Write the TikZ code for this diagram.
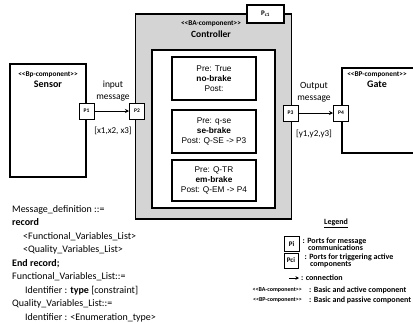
\documentclass[tikz,border=0pt]{standalone}
\usepackage{fontspec}
\setmainfont{Carlito}
\newfontfamily\arialfont{Liberation Sans}
\usetikzlibrary{arrows.meta,positioning}
\definecolor{shade}{RGB}{212,212,212}
\newcommand{\ster}[1]{{<}{<}#1{>}{>}}
\tikzset{
  comp/.style={draw=black,line width=1.2pt,fill=white,inner sep=0pt},
  port/.style={draw=black,line width=1pt,fill=white,minimum width=15pt,minimum height=16pt,inner sep=0pt,font=\fontsize{5.5}{6}\selectfont\bfseries},
  beh/.style={draw=black,line width=1.2pt,fill=white,minimum width=84pt,minimum height=43pt,align=center,inner sep=0pt,font=\arialfont\fontsize{8.3}{10}\selectfont},
  stereo/.style={font=\fontsize{7.3}{8}\selectfont\bfseries,inner sep=0pt},
  title/.style={font=\fontsize{10}{11}\selectfont\bfseries,inner sep=0pt},
  msg/.style={font=\fontsize{9.5}{11.5}\selectfont,align=center,inner sep=0pt},
  arr/.style={-{Stealth[length=4pt,width=4pt]},line width=0.8pt},
  code/.style={anchor=base west,font=\fontsize{10}{12}\selectfont,inner sep=0pt},
  leg/.style={anchor=west,font=\fontsize{8}{7}\selectfont\bfseries,align=left,inner sep=0pt}
}

\begin{document}
\begin{tikzpicture}[x=1pt,y=-1pt]
  \clip (0,0) rectangle (413,322);
  % sensor
  \node[comp,minimum width=76pt,minimum height=113pt] (sensor) at (48,120.5) {};
  \node[stereo] (sst) at (48,75) {\ster{Bp-component}};
  \node[title,below=3pt of sst] {Sensor};
  % controller
  \node[comp,fill=shade,minimum width=156pt,minimum height=205pt] (ctrl) at (213.5,116.5) {};
  \node[comp,minimum width=37pt,minimum height=18pt,font=\fontsize{7}{8}\selectfont\bfseries] (pc1) at (265.5,14) {P\textsubscript{c1}};
  \node[stereo] (cst) at (211,24) {\ster{BA-component}};
  \node[title,font=\fontsize{9.5}{11}\selectfont\bfseries,below=3pt of cst] {Controller};
  \node[comp,minimum width=123pt,minimum height=158pt] (inner) at (213.5,129) {};
  \node[beh] (nb) at (214,78.5) {Pre: True\\\textbf{no-brake}\\Post:};
  \node[beh] (sb) at (214,131.5) {Pre: q-se\\\textbf{se-brake}\\Post: Q-SE -> P3};
  \node[beh,minimum height=41pt] (eb) at (214,180.5) {Pre: Q-TR\\\textbf{em-brake}\\Post: Q-EM -> P4};
  % gate
  \node[comp,minimum width=85pt,minimum height=85pt] (gate) at (384.5,110.5) {};
  \node[stereo] (gst) at (377,75) {\ster{BP-component}};
  \node[title,below=3pt of gst] {Gate};
  % ports and messages
  \node[port] (p1) at (86.5,111) {P1};
  \node[port] (p2) at (137,111) {P2};
  \node[port] (p3) at (290.5,113) {P3};
  \node[port] (p4) at (341,113) {P4};
  \draw[arr] (p1) -- (p2);
  \draw[arr] (p3) -- (p4);
  \node[msg] at (113,91) {input\\message};
  \node[msg,font=\fontsize{9}{11}\selectfont] at (113,131) {[x1,x2, x3]};
  \node[msg] at (314,92) {Output\\message};
  \node[msg,font=\fontsize{9}{11}\selectfont] at (314,134) {[y1,y2,y3]};
  % message definition
  \node[code] at (12,212) {Message\_definition ::=};
  \node[code] at (12,225.5) {\textbf{record}};
  \node[code] at (23,239) {<Functional\_Variables\_List>};
  \node[code] at (23,252.5) {<Quality\_Variables\_List>};
  \node[code] at (12,266) {\textbf{End record;}};
  \node[code] at (12,279.5) {Functional\_Variables\_List::=};
  \node[code] at (25,293) {Identifier : \textbf{type} [constraint]};
  \node[code] at (12,306.5) {Quality\_Variables\_List::=};
  \node[code] at (25,320) {Identifier : <Enumeration\_type>};
  % legend
  \node[leg,anchor=center] at (336,223) {\underline{Legend}};
  \node[port,minimum width=15pt,minimum height=15pt,font=\fontsize{7}{7}\selectfont\bfseries] (lpi) at (291.5,244) {Pi};
  \node[leg,right=3pt of lpi,yshift=-0.5pt] {: Ports for message\\\ \ \ communications};
  \node[port,minimum width=14pt,minimum height=15pt,font=\fontsize{7}{7}\selectfont\bfseries] (lpc) at (291,260.5) {Pci};
  \node[leg,right=6pt of lpc,yshift=-0.5pt] (tpc) {: Ports for triggering active\\\ \ \ components};
  \coordinate (la) at (289,278);
  \coordinate (lb) at (299,278);
  \draw[arr,line width=0.8pt,-{Stealth[length=3.5pt,width=3.5pt]}] (la) -- (lb);
  \node[leg] at (301,278) {: connection};
  \node[stereo,font=\fontsize{6}{6}\selectfont\bfseries,anchor=east] at (302,290) {\ster{BA-component}};
  \node[leg] at (309,290) {: Basic and active component};
  \node[stereo,font=\fontsize{6}{6}\selectfont\bfseries,anchor=east] at (302,300.5) {\ster{BP-component}};
  \node[leg] at (309,300.5) {: Basic and passive component};
\end{tikzpicture}
\end{document}
